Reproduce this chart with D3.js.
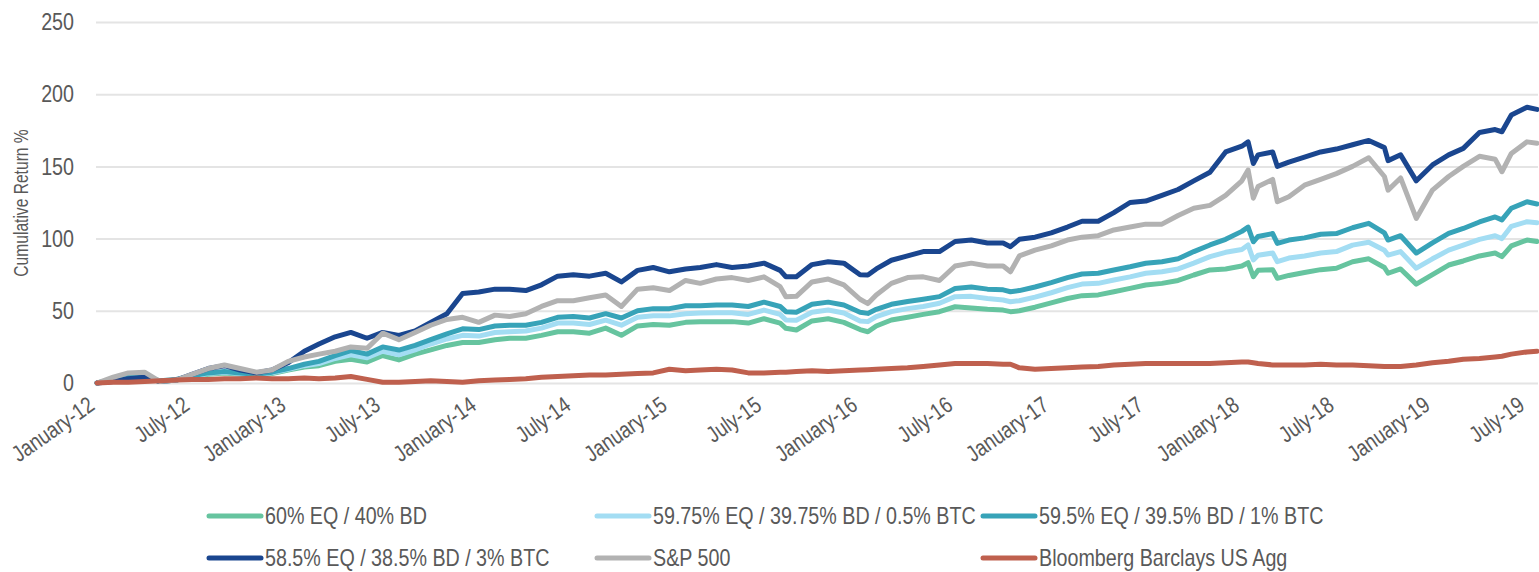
<!DOCTYPE html>
<html>
<head>
<meta charset="utf-8">
<script src="https://cdn.jsdelivr.net/npm/d3@7"></script>
<style>
  html, body { margin: 0; padding: 0; background: #ffffff; }
  svg { display: block; }
  text { font-family: "Liberation Sans Narrow", "Arial Narrow", "Liberation Sans", Arial, sans-serif; }
</style>
</head>
<body>
<svg id="chart" width="1539" height="572"></svg>
<script>
// ---- Data ----
const dates = [
  "2012-01-01","2012-02-01","2012-03-01","2012-04-01","2012-05-01","2012-06-01","2012-07-01","2012-08-01","2012-09-01","2012-10-01","2012-11-01","2012-12-01",
  "2013-01-01","2013-02-01","2013-03-01","2013-04-01","2013-05-01","2013-06-01","2013-07-01","2013-08-01","2013-09-01","2013-10-01","2013-11-01","2013-12-01",
  "2014-01-01","2014-02-01","2014-03-01","2014-04-01","2014-05-01","2014-06-01","2014-07-01","2014-08-01","2014-09-01","2014-10-01","2014-11-01","2014-12-01",
  "2015-01-01","2015-02-01","2015-03-01","2015-04-01","2015-05-01","2015-06-01","2015-07-01","2015-08-01","2015-08-12","2015-09-01","2015-10-01","2015-11-01","2015-12-01",
  "2016-01-01","2016-01-16","2016-02-01","2016-03-01","2016-04-01","2016-05-01","2016-06-01","2016-07-01","2016-08-01","2016-09-01","2016-10-01","2016-10-15","2016-11-01","2016-12-01",
  "2017-01-01","2017-02-01","2017-03-01","2017-04-01","2017-05-01","2017-06-01","2017-07-01","2017-08-01","2017-09-01","2017-10-01","2017-11-01","2017-12-01",
  "2018-01-01","2018-01-13","2018-01-23","2018-02-01","2018-03-01","2018-03-10","2018-04-01","2018-05-01","2018-06-01","2018-07-01","2018-08-01","2018-09-01","2018-10-01","2018-10-08","2018-11-01","2018-12-01",
  "2019-01-01","2019-02-01","2019-03-01","2019-04-01","2019-05-01","2019-05-14","2019-06-01","2019-07-01","2019-07-20"
];

const seriesNames = [
  "60% EQ / 40% BD",
  "59.75% EQ / 39.75% BD / 0.5% BTC",
  "59.5% EQ / 39.5% BD / 1% BTC",
  "58.5% EQ / 38.5% BD / 3% BTC",
  "S&P 500",
  "Bloomberg Barclays US Agg"
];

const eq60bd40 = [
  0,2,3.5,4,1,2,4.2,6,7,6,5,6.5,
  9,11,12,15,16.5,14.5,19,16,20,23,26,28,
  28,30,31,31,33,35.5,35.5,34.5,38,33,39.5,40.5,
  40,42,42.5,42.5,42.5,41.5,44.5,41.5,37.9,36.7,43,44.5,42,
  37,35.5,39.5,43.6,45.5,47.5,49.4,52.8,52,51,50.5,49.4,50,52.5,
  55.5,58.5,60.5,61,63.2,65.5,67.9,69,71,74.8,78.3,79,
  81,83.3,73.6,78,78.5,72.5,74.5,76.5,78.5,79.5,84,86,80,76,79,68.5,
  75,81.7,84.5,88,90,87.5,95,99,98
];
const btcHalf = [
  0,2.3,3.7,4.2,1.3,2.3,4.6,6.5,7.5,6.5,5.5,7,
  9.5,12,13.5,17,19.5,17.5,22,19.5,23,27,30.5,33,
  32.5,35,35.5,36,38,41.5,41.5,40.5,43.5,40,45.5,46.5,
  46.5,48,48.5,48.7,48.7,47.5,50.5,47.5,43.6,43.5,49,50.5,48.5,
  43,42.5,46,49.4,51.5,53,55.2,59.8,60,58.5,57.5,56.3,57,59.5,
  62.5,66,68.5,69,71.3,73.5,76,77,79,83,87.5,90.5,
  92.5,95.6,85.2,88.5,90,84,86.5,88,90,91,95.5,97.5,92,88.6,91,79.5,
  86,92,95.5,99.5,102,100,108.5,111.7,111
];
const btcOne = [
  0,2.5,4,4.5,1.5,2.5,5,7,8,7,6,7.5,
  10,13,15,19,22.5,20,25,22.8,26,30,34,37.5,
  37,39.5,40,40,42,45.5,46,45,48,45,50,51.5,
  51.5,53.5,53.5,54,54,53,56,53,49.4,49,54.5,56,54,
  49,48.2,51,54.5,56.5,58,59.8,65.5,66.5,65,64.5,63.2,64,66.5,
  69.5,73,75.5,76,78.3,80.5,82.9,84,86,91,95.6,99.5,
  105,108,97.8,101.5,103.5,96.7,99,100.5,103,103.5,107.5,110.6,104,99,102,90,
  97,103.6,107,111.5,115,113,121,125.5,124
];
const btcThree = [
  0,1,3,4,1,2,6,10,12,9,7,9,
  14,22,27,32,35,31,35,33,36,42,48,62,
  63,65,65,64,68,74,75,74,76,70,78,80,
  77,79,80,82,80,81,83,78,73.6,73.6,82,84,83,
  75,74.8,79,85,88,91,91,98,99,97,97,94.4,99.5,101,
  104,108,112,112,118,125,126,130,134,140,146,160,
  164,167,152,158,160,150,153,156.5,160,162,165,168,163,154,158,140,
  151,158,162.5,173.5,175.5,174,185.6,191,189.5
];
const sp500 = [
  0,4,7,7.5,1,2,6,10,12.5,10,7.5,9,
  15,18,20,22,25,24,34.5,30,35,40,44,45.5,
  42,47,46,48,53,57,57,59,61,53,65,66,
  64,71,69,72,73,71,73.5,66.7,59.8,60,70,72,68,
  58,55,61,69,73,73.5,71,81,83,81,81,77,88,92,
  95,99,101,102,106,108,110,110,116,121,123,130,
  140,147.5,128,136,141,125.5,129,137,141,145,150,156,143,133.6,142,114,
  133.6,143,150,157,155,146.3,159,167,166
];
const usAgg = [
  0,0.5,0.5,1,1.5,2,2.5,2.5,3,3,3.5,3,
  3,3.5,3,3.5,4.5,2.5,0.5,0.5,1,1.5,1,0.5,
  1.5,2,2.5,3,4,4.5,5,5.5,5.5,6,6.5,7,
  9.5,8.5,9,9.5,9,7,7,7.5,7.5,8,8.5,8,8.5,
  9,9.2,9.5,10,10.5,11.5,12.5,13.5,13.5,13.5,13,13,10.5,9.5,
  10,10.5,11,11.5,12.5,13,13.5,13.5,13.5,13.5,13.5,14,
  14.5,14.5,14,13.5,12.5,12.5,12.5,12.5,13,12.5,12.5,12,11.5,11.5,11.5,12.5,
  14,15,16.5,17,18,18.5,20,21.5,22
];

const yTicks = [0, 50, 100, 150, 200, 250];
const xTickDates = [
  "2012-01-01","2012-07-01","2013-01-01","2013-07-01","2014-01-01","2014-07-01",
  "2015-01-01","2015-07-01","2016-01-01","2016-07-01","2017-01-01","2017-07-01",
  "2018-01-01","2018-07-01","2019-01-01","2019-07-01"
];
const yTitle = "Cumulative Return %";

const colors = ["#66C49F", "#A3DDF3", "#37A3B8", "#1A468F", "#B2B2B2", "#BF604E"];
const valueArrays = [eq60bd40, btcHalf, btcOne, btcThree, sp500, usAgg];

// condense text (narrow face substitute)
function condense(sel, k) {
  sel.each(function () {
    const w = this.getComputedTextLength();
    d3.select(this).attr("textLength", w * k).attr("lengthAdjust", "spacingAndGlyphs");
  });
}

// ---- Drawing ----
const parse = d3.timeParse("%Y-%m-%d");
const svg = d3.select("#chart");

const x = d3.scaleTime()
  .domain([parse("2012-01-01"), parse("2019-07-01")])
  .range([97, 1527]);
const y = d3.scaleLinear().domain([0, 250]).range([383, 22]);

// gridlines + y labels
const yAxis = d3.axisLeft(y).tickValues(yTicks).tickSize(-(1538 - 96)).tickPadding(22);
const gy = svg.append("g").attr("transform", "translate(96,0)").call(yAxis);
gy.select(".domain").remove();
gy.selectAll(".tick line").attr("stroke", "#E4E4E4").attr("stroke-width", 2);
gy.selectAll(".tick text")
  .attr("fill", "#595959")
  .style("font-size", "24px")
  .call(condense, 0.82);

// y title
svg.append("text")
  .attr("transform", "translate(28,203) rotate(-90)")
  .attr("text-anchor", "middle")
  .attr("fill", "#595959")
  .style("font-size", "20px")
  .text(yTitle)
  .call(condense, 0.78);

// x axis
const xAxis = d3.axisBottom(x)
  .tickValues(xTickDates.map(parse))
  .tickSize(0)
  .tickFormat(d3.timeFormat("%B-%y"));
const gx = svg.append("g").attr("transform", "translate(0,383)").call(xAxis);
gx.select(".domain").remove();
gx.selectAll(".tick text")
  .attr("fill", "#595959")
  .style("font-size", "23px")
  .attr("text-anchor", "end")
  .attr("x", 0).attr("y", 0).attr("dy", "0.35em")
  .attr("transform", "translate(-6,19) rotate(-35)")
  .call(condense, 0.82);

// lines
const line = d3.line()
  .x((d, i) => x(parse(dates[i])))
  .y(d => y(d))
  .curve(d3.curveLinear);

svg.append("g").selectAll("path")
  .data(valueArrays)
  .join("path")
  .attr("d", d => line(d))
  .attr("fill", "none")
  .attr("stroke", (d, i) => colors[i])
  .attr("stroke-width", 5)
  .attr("stroke-linejoin", "round")
  .attr("stroke-linecap", "round");

// legend
const legCols = [207, 595, 981];
const legRows = [516, 558];
const leg = svg.append("g").selectAll("g")
  .data(seriesNames)
  .join("g")
  .attr("transform", (d, i) => `translate(${legCols[i % 3]},${legRows[Math.floor(i / 3)]})`);
leg.append("line")
  .attr("x1", 2).attr("x2", 54).attr("y1", 0).attr("y2", 0)
  .attr("stroke", (d, i) => colors[i])
  .attr("stroke-width", 5)
  .attr("stroke-linecap", "round");
leg.append("text")
  .attr("x", 58).attr("y", 0).attr("dy", "0.35em")
  .attr("fill", "#595959")
  .style("font-size", "24px")
  .text(d => d)
  .call(condense, 0.82);
</script>
</body>
</html>
